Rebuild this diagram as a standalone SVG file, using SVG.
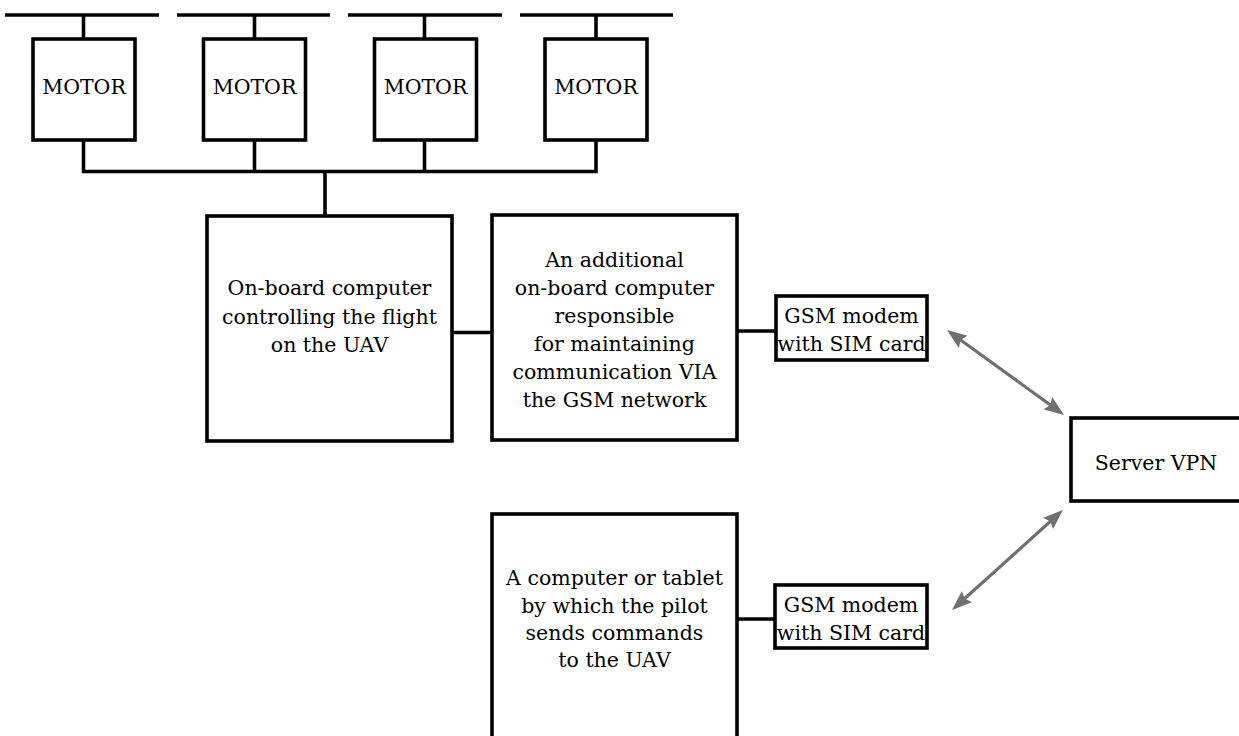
<svg xmlns="http://www.w3.org/2000/svg" width="1239" height="736" viewBox="0 0 1239 736">
<style>
.box{fill:#fff;stroke:#000;stroke-width:3.6}
.wire{fill:none;stroke:#000;stroke-width:3.6}
.arr{fill:none;stroke:#707070;stroke-width:3.2}
text{font-family:"DejaVu Serif","Liberation Serif",serif;font-size:20.5px;fill:#000;text-anchor:middle}
</style>
<defs>
<marker id="ah" viewBox="0 0 20 15" markerUnits="userSpaceOnUse" markerWidth="20" markerHeight="15" refX="7" refY="7.5" orient="auto-start-reverse">
<path d="M0,0 L20,7.5 L0,15 L3,7.5 z" fill="#707070"/>
</marker>
</defs>
<rect width="1239" height="736" fill="#fff"/>
<g id="connectors">
<path class="wire" d="M5,15 H159 M177,15 H330 M348,15 H502 M520,15 H673"/>
<path class="wire" d="M83.5,15 V39 M254.5,15 V39 M424.5,15 V39 M596,15 V39"/>
<path class="wire" d="M83.5,140 V171.5 H596 V140 M254.5,140 V171.5 M424.5,140 V171.5 M325,171.5 V216"/>
<path class="wire" d="M452,332.5 H492 M737,331 H776 M737,619 H775"/>
<line class="arr" x1="957.5" y1="337.7" x2="1053.5" y2="407.3" marker-start="url(#ah)" marker-end="url(#ah)"/>
<line class="arr" x1="961.7" y1="601.3" x2="1053.3" y2="518.7" marker-start="url(#ah)" marker-end="url(#ah)"/>
</g>
<g id="motor1"><rect class="box" x="33" y="39" width="102" height="101"/><text x="84" y="94">MOTOR</text></g>
<g id="motor2"><rect class="box" x="203.5" y="39" width="102" height="101"/><text x="254.5" y="94">MOTOR</text></g>
<g id="motor3"><rect class="box" x="374.5" y="39" width="102" height="101"/><text x="425.5" y="94">MOTOR</text></g>
<g id="motor4"><rect class="box" x="545" y="39" width="102" height="101"/><text x="596" y="94">MOTOR</text></g>
<g id="flight-computer"><rect class="box" x="207" y="216" width="245" height="225"/>
<text x="329.5" y="295">On-board computer</text>
<text x="329.5" y="323.5">controlling the flight</text>
<text x="329.5" y="352">on the UAV</text></g>
<g id="comm-computer"><rect class="box" x="492" y="215" width="245" height="225"/>
<text x="614.5" y="266.5">An additional</text>
<text x="614.5" y="294.5">on-board computer</text>
<text x="614.5" y="322.5">responsible</text>
<text x="614.5" y="350.5">for maintaining</text>
<text x="614.5" y="378.5">communication VIA</text>
<text x="614.5" y="406.5">the GSM network</text></g>
<g id="gsm-uav"><rect class="box" x="776" y="296" width="151" height="64"/>
<text x="851.5" y="322.5">GSM modem</text>
<text x="851.5" y="350.5">with SIM card</text></g>
<g id="server-vpn"><rect class="box" x="1071" y="418" width="200" height="83"/>
<text x="1156" y="470">Server VPN</text></g>
<g id="pilot-computer"><rect class="box" x="492" y="514" width="245" height="240"/>
<text x="614.5" y="585">A computer or tablet</text>
<text x="614.5" y="612.5">by which the pilot</text>
<text x="614.5" y="640">sends commands</text>
<text x="614.5" y="667">to the UAV</text></g>
<g id="gsm-pilot"><rect class="box" x="775" y="585" width="152" height="63"/>
<text x="851" y="611.5">GSM modem</text>
<text x="851" y="639.5">with SIM card</text></g>
</svg>
